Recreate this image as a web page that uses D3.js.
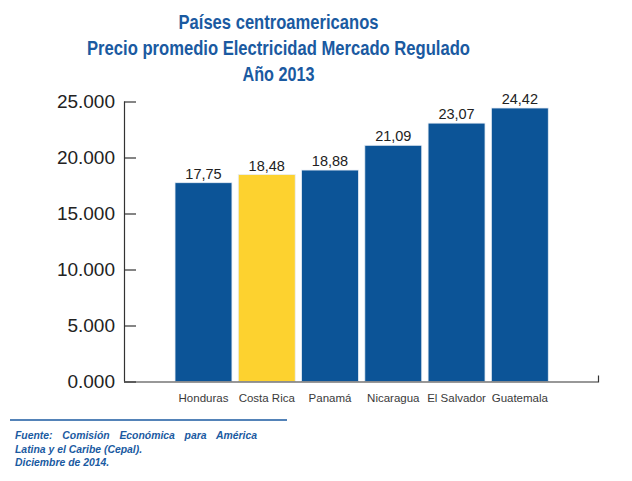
<!DOCTYPE html>
<html><head><meta charset="utf-8">
<script src="https://cdn.jsdelivr.net/npm/d3@7"></script>
<style>body{margin:0;background:#fff}svg{display:block}</style>
</head><body>
<script>
const categories = ["Honduras","Costa Rica","Panamá","Nicaragua","El Salvador","Guatemala"];
const values = [17.75, 18.48, 18.88, 21.09, 23.07, 24.42];
const valueLabels = ["17,75","18,48","18,88","21,09","23,07","24,42"];
const highlight = ["Costa Rica"];
const yTicks = [0, 5, 10, 15, 20, 25];
const yTickLabels = ["0.000","5.000","10.000","15.000","20.000","25.000"];
const titleLines = ["Países centroamericanos","Precio promedio Electricidad Mercado Regulado","Año 2013"];
const sourceLines = ["Fuente: Comisión Económica para América","Latina y el Caribe (Cepal).","Diciembre de 2014."];

const W = 632, H = 481;
const blue = "#0c5497", yellow = "#fdd22f", titleBlue = "#1a5aa1";
const svg = d3.select("body").append("svg").attr("width", W).attr("height", H);

const x = d3.scaleBand().domain(categories).range([171.85, 551.45]).paddingInner(0.1).paddingOuter(0.05);
const y = d3.scaleLinear().domain([0, 25]).range([381.5, 101.5]);

// title
const tl = [{t:titleLines[0], y:28.5, w:200},{t:titleLines[1], y:55, w:383},{t:titleLines[2], y:81, w:72}];
svg.selectAll("text.title").data(tl).join("text")
  .attr("x", 278.5).attr("y", d=>d.y).attr("text-anchor","middle")
  .attr("font-family","Liberation Sans, Arial, sans-serif").attr("font-weight","bold")
  .attr("font-size", 20.5).attr("fill", titleBlue)
  .attr("textLength", d=>d.w).attr("lengthAdjust","spacingAndGlyphs")
  .text(d=>d.t);

// bars
svg.selectAll("rect.bar").data(categories).join("rect")
  .attr("x", d=>x(d)).attr("width", x.bandwidth())
  .attr("y", (d,i)=>y(values[i])).attr("height", (d,i)=>y(0)-y(values[i]))
  .attr("fill", d=>highlight.includes(d)?yellow:blue)
  .attr("stroke", "#e8eef5").attr("stroke-width", 0.8);

// value labels
svg.selectAll("text.val").data(categories).join("text")
  .attr("x", d=>x(d)+x.bandwidth()/2).attr("y", (d,i)=>y(values[i])-4)
  .attr("text-anchor","middle").attr("font-family","Liberation Sans, Arial, sans-serif")
  .attr("font-size", 14.5).attr("fill","#222")
  .text((d,i)=>valueLabels[i]);

// y axis
const yAxis = d3.axisRight(y).tickValues(yTicks).tickSize(12).tickFormat((d,i)=>yTickLabels[i]);
const gy = svg.append("g").attr("transform","translate(124,0)").call(yAxis);
gy.select(".domain").attr("d","M0.5,"+y(25)+"V"+y(0)).attr("stroke","#333").attr("stroke-width",1.2);
gy.selectAll(".tick line").attr("stroke","#333").attr("stroke-width",1.2);
gy.selectAll(".tick text").attr("x",-9).attr("text-anchor","end")
  .attr("font-family","Liberation Sans, Arial, sans-serif").attr("font-size",19).attr("fill","#222");

// x axis
const xAxis = d3.axisBottom(x).tickSize(0).tickPadding(10);
const gx = svg.append("g").attr("transform","translate(0,"+y(0)+")").call(xAxis);
gx.select(".domain").attr("d","M124,0.5H598.5V-6").attr("stroke","#333").attr("stroke-width",1.2).attr("fill","none");
gx.selectAll(".tick text").attr("font-family","Liberation Sans, Arial, sans-serif").attr("font-size",11.5).attr("fill","#3a3a3a").attr("dy","0.9em");

// footer
svg.append("line").attr("x1",10).attr("x2",287).attr("y1",420).attr("y2",420).attr("stroke",titleBlue).attr("stroke-width",1.6);
const fl = [{t:sourceLines[0], y:439, w:242},{t:sourceLines[1], y:452.5, w:null},{t:sourceLines[2], y:466, w:null}];
fl.forEach(d=>{
  const t = svg.append("text").attr("x",15).attr("y",d.y)
    .attr("font-family","Liberation Sans, Arial, sans-serif").attr("font-weight","bold").attr("font-style","italic")
    .attr("font-size",10.4).attr("fill",titleBlue).text(d.t);
  if (d.w) {
    const nat = t.node().getComputedTextLength();
    const spaces = d.t.split(" ").length - 1;
    t.attr("word-spacing", ((d.w - nat) / spaces).toFixed(2));
  }
});
</script>
</body></html>
